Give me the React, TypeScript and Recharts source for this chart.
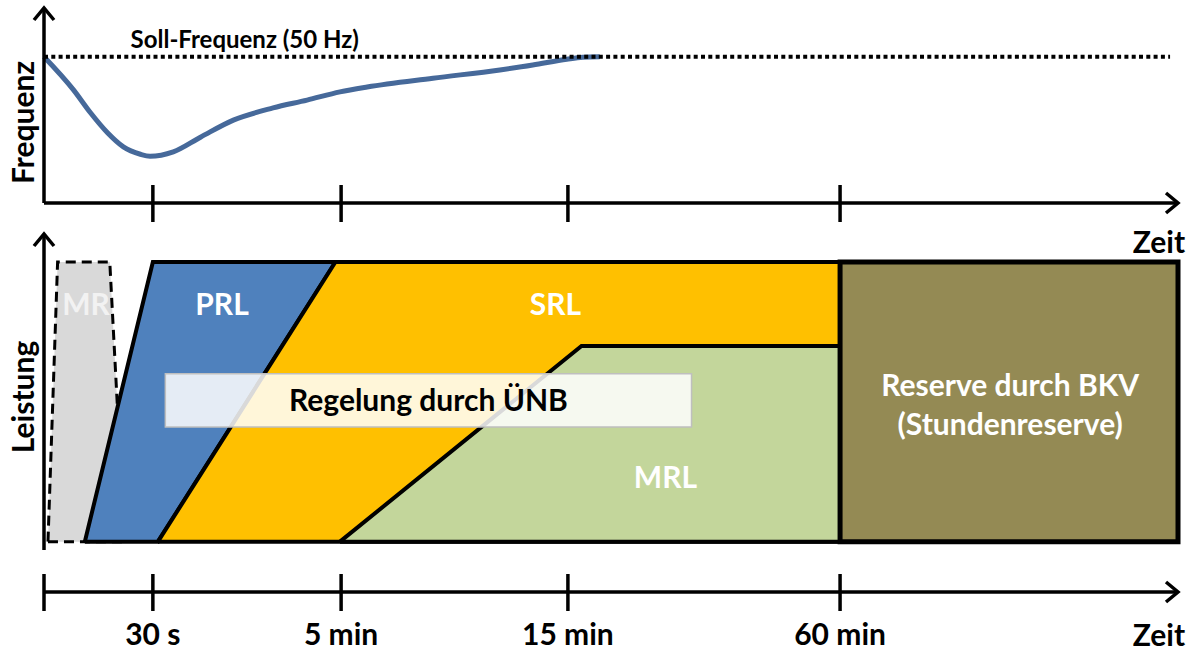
import {
  LineChart,
  Line,
  ComposedChart,
  Area,
  XAxis,
  YAxis,
  ReferenceLine,
  ReferenceArea,
  ReferenceDot,
} from "recharts"

const font = "Lato, 'Open Sans', sans-serif"

// Zeitachse: 0 = Beginn, 100 = Pfeilspitze
const zeitTicks = [0, 9.6, 26.2, 46.2, 70.2]
const zeitLabels = ["", "30 s", "5 min", "15 min", "60 min"]

// Frequenzverlauf
const kurveZeit = [0, 2.6, 4.1, 5.6, 7.0, 8.5, 9.35, 11.4, 13.8, 16.7, 20.2, 23.2, 26.1, 28.5, 34.3, 40.2, 43.1, 46.1, 47.5, 49.0]
const kurveHz = [50.0, 49.932, 49.885, 49.844, 49.815, 49.8, 49.796, 49.805, 49.835, 49.87, 49.895, 49.911, 49.928, 49.938, 49.956, 49.973, 49.983, 49.995, 49.999, 50.0]
const sollHz = 50

// Leistungsblöcke (0 = keine, 1 = volle Leistung)
const mrZeit = [0.35, 1.2, 5.8, 7.1]
const mrUnten = [0, 0, 0, 0]
const mrOben = [0, 1, 1, 0]
const prlZeit = [3.6, 9.6, 10.05, 25.7]
const prlUnten = [0, 0, 0, 1]
const prlOben = [0, 1, 1, 1]
const srlZeit = [10.05, 25.7, 70.2]
const srlUnten = [0, 0, 0]
const srlOben = [0, 1, 1]
const mrlZeit = [26.1, 47.4, 70.2]
const mrlUnten = [0, 0, 0]
const mrlOben = [0, 0.7, 0.7]
const bkvZeit = [70.2, 100]
const uenbZeit = [10.7, 57.1]
const uenbLeistung = [0.41, 0.6]

const blockLabels = [
  { text: "MR", t: 3.7, p: 0.85, color: "#F2F2F2" },
  { text: "PRL", t: 15.7, p: 0.85, color: "#FFFFFF" },
  { text: "SRL", t: 45.1, p: 0.85, color: "#FFFFFF" },
  { text: "MRL", t: 54.8, p: 0.23, color: "#FFFFFF" },
  { text: "Reserve durch BKV", t: 85.2, p: 0.56, color: "#FFFFFF" },
  { text: "(Stundenreserve)", t: 85.2, p: 0.42, color: "#FFFFFF" },
]

const kurveData = kurveZeit.map((t, i) => ({ t, hz: kurveHz[i] }))
const rangeData = (zeit: number[], unten: number[], oben: number[]) =>
  zeit.map((t, i) => ({ t, p: [unten[i], oben[i]] }))

function ZeitTick(props: any) {
  const { x, y, payload, showLabel } = props
  const label = zeitLabels[zeitTicks.indexOf(payload.value)]
  return (
    <g>
      <line x1={x} x2={x} y1={y - 18} y2={y + 19} stroke="#000" strokeWidth={3.5} />
      {showLabel && label ? (
        <text x={x} y={y + 53} textAnchor="middle" fontFamily={font} fontWeight={700} fontSize={30} fill="#000">
          {label}
        </text>
      ) : null}
    </g>
  )
}

const vertLabel = (text: string, shift: number) => (props: any) => {
  const vb = props.viewBox
  const cx = vb.x + vb.width / 2
  const cy = vb.y + vb.height / 2 + shift
  return (
    <text
      transform={`translate(${cx},${cy}) rotate(-90)`}
      textAnchor="middle"
      dominantBaseline="central"
      fontFamily={font}
      fontWeight={700}
      fontSize={30}
      fill="#000"
    >
      {text}
    </text>
  )
}

const axisLine = { stroke: "#000", strokeWidth: 3.5, markerEnd: "url(#pfeil)" }
const bold30 = { fontFamily: font, fontWeight: 700, fontSize: 30 }

export default function App() {
  return (
    <div style={{ position: "absolute", left: 0, top: 0, width: 1197, height: 653, background: "#fff" }}>
      <svg width={0} height={0} style={{ position: "absolute" }}>
        <defs>
          <marker
            id="pfeil"
            viewBox="0 0 16 22"
            refX={14}
            refY={11}
            markerWidth={16}
            markerHeight={22}
            markerUnits="userSpaceOnUse"
            orient="auto"
            overflow="visible"
          >
            <path d="M2,1 L14,11 L2,21" fill="none" stroke="#000" strokeWidth={3.5} />
          </marker>
        </defs>
      </svg>

      <div style={{ position: "absolute", left: 0, top: 0 }}>
        <LineChart width={1197} height={225} data={kurveData} margin={{ top: 8, right: 19, bottom: 21, left: 0 }}>
          <XAxis
            dataKey="t"
            type="number"
            domain={[0, 100]}
            ticks={zeitTicks.slice(1)}
            interval={0}
            height={1}
            tickSize={0}
            tickMargin={0}
            axisLine={false}
            tickLine={false}
            tick={(p: any) => <ZeitTick {...p} showLabel={false} />}
          />
          <YAxis
            type="number"
            domain={[49.7, 50.1]}
            width={44}
            axisLine={false}
            tickLine={false}
            tick={false}
            label={{ content: vertLabel("Frequenz", 17) }}
          />
          <Line
            type="monotone"
            dataKey="hz"
            stroke="#46699A"
            strokeWidth={5}
            dot={false}
            isAnimationActive={false}
          />
          <ReferenceLine
            stroke="#000"
            strokeWidth={4}
            strokeDasharray="4 3.3"
            segment={[{ x: 0, y: sollHz }, { x: 99.3, y: sollHz }]}
          />
          <ReferenceDot
            x={17.7}
            y={sollHz}
            r={0}
            fill="none"
            stroke="none"
            label={{ value: "Soll-Frequenz (50 Hz)", position: "top", offset: 9, fontFamily: font, fontWeight: 700, fontSize: 24, fill: "#000" }}
          />
          <ReferenceLine segment={[{ x: 0, y: 49.7 }, { x: 100, y: 49.7 }]} {...axisLine} />
          <ReferenceLine segment={[{ x: 0, y: 49.7 }, { x: 0, y: 50.1 }]} {...axisLine} />
        </LineChart>
      </div>

      <div style={{ position: "absolute", left: 0, top: 212 }}>
        <ComposedChart width={1197} height={441} margin={{ top: 22, right: 19, bottom: 60, left: 0 }}>
          <XAxis
            dataKey="t"
            type="number"
            domain={[0, 100]}
            ticks={zeitTicks}
            interval={0}
            height={1}
            tickSize={0}
            tickMargin={0}
            axisLine={false}
            tickLine={false}
            allowDuplicatedCategory={false}
            tick={(p: any) => <ZeitTick {...p} showLabel />}
          />
          <YAxis
            type="number"
            domain={[-0.18, 1.1]}
            width={44}
            axisLine={false}
            tickLine={false}
            tick={false}
            label={{ content: vertLabel("Leistung", -16) }}
          />
          <Area
            data={rangeData(mrZeit, mrUnten, mrOben)}
            dataKey="p"
            type="linear"
            fill="#D9D9D9"
            fillOpacity={1}
            stroke="#000"
            strokeWidth={3}
            strokeDasharray="10 6"
            isAnimationActive={false}
          />
          <Area
            data={rangeData(prlZeit, prlUnten, prlOben)}
            dataKey="p"
            type="linear"
            fill="#4F81BD"
            fillOpacity={1}
            stroke="#000"
            strokeWidth={4}
            isAnimationActive={false}
          />
          <Area
            data={rangeData(srlZeit, srlUnten, srlOben)}
            dataKey="p"
            type="linear"
            fill="#FFC000"
            fillOpacity={1}
            stroke="#000"
            strokeWidth={4}
            isAnimationActive={false}
          />
          <Area
            data={rangeData(mrlZeit, mrlUnten, mrlOben)}
            dataKey="p"
            type="linear"
            fill="#C3D69B"
            fillOpacity={1}
            stroke="#000"
            strokeWidth={4}
            isAnimationActive={false}
          />
          <ReferenceArea
            x1={bkvZeit[0]}
            x2={bkvZeit[1]}
            y1={0}
            y2={1}
            fill="#948A54"
            fillOpacity={1}
            stroke="#000"
            strokeWidth={5}
          />
          <ReferenceArea
            x1={uenbZeit[0]}
            x2={uenbZeit[1]}
            y1={uenbLeistung[0]}
            y2={uenbLeistung[1]}
            fill="#FFFFFF"
            fillOpacity={0.85}
            stroke="#BFBFBF"
            strokeWidth={1.5}
            label={{ value: "Regelung durch ÜNB", position: "center", ...bold30, fill: "#000" }}
          />
          {blockLabels.map((b) => (
            <ReferenceDot
              key={b.text}
              x={b.t}
              y={b.p}
              r={0}
              fill="none"
              stroke="none"
              label={{ value: b.text, position: "center", ...bold30, fill: b.color }}
            />
          ))}
          <ReferenceDot
            x={100}
            y={1.07}
            r={0}
            fill="none"
            stroke="none"
            label={{ value: "Zeit", position: "center", dx: -19, ...bold30, fill: "#000" }}
          />
          <ReferenceDot
            x={100}
            y={-0.18}
            r={0}
            fill="none"
            stroke="none"
            label={{ value: "Zeit", position: "center", dx: -19, dy: 43, ...bold30, fill: "#000" }}
          />
          <ReferenceLine segment={[{ x: 0, y: -0.03 }, { x: 0, y: 1.1 }]} {...axisLine} />
          <ReferenceLine segment={[{ x: 0, y: -0.18 }, { x: 100, y: -0.18 }]} {...axisLine} />
        </ComposedChart>
      </div>
    </div>
  )
}
